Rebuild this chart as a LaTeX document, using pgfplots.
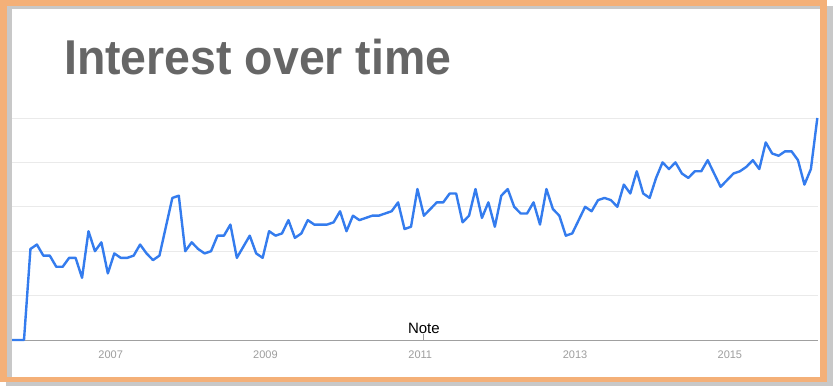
\documentclass[border=0pt]{standalone}
\usepackage{pgfplots}
\pgfplotsset{compat=1.18}
\usepackage{fontspec}
\setmainfont{Liberation Sans}
\definecolor{frameorange}{RGB}{244,176,120}
\definecolor{framegray}{RGB}{200,200,200}
\definecolor{titlegray}{RGB}{102,102,102}
\definecolor{ticktext}{RGB}{158,158,158}
\definecolor{gridc}{RGB}{234,234,234}
\definecolor{axisc}{RGB}{160,160,160}
\definecolor{trendblue}{RGB}{52,124,238}
\begin{document}
\begin{tikzpicture}[x=1pt,y=1pt]
\useasboundingbox (0,0) rectangle (833,386);
\fill[white] (0,0) rectangle (833,386);
\begin{axis}[
  at={(12pt,46pt)}, anchor=south west,
  scale only axis, width=806.3pt, height=222pt,
  xmin=-1.86, xmax=123.15, ymin=0, ymax=100,
  axis x line*=bottom, axis y line*=left,
  x axis line style={draw=axisc, line width=1pt, -},
  y axis line style={draw=none},
  xtick={13.44,37.44,61.44,85.44,109.44},
  xticklabels={2007,2009,2011,2013,2015},
  ytick={20,40,60,80,100}, yticklabels={},
  ymajorgrids, major grid style={draw=gridc, line width=1pt},
  major tick length=0pt,
  xticklabel style={anchor=base, yshift=-18.3pt, text=ticktext, font=\fontsize{11}{12}\selectfont},
  clip=false,
]
\addplot[trendblue, line width=2.4pt, line join=round] coordinates {
(-1.86,0)(0,0)(1,41)(2,43)(3,38)(4,38)(5,33)(6,33)(7,37)(8,37)(9,28)
(10,49)(11,40)(12,44)(13,30)(14,39)(15,37)(16,37)(17,38)(18,43)(19,39)
(20,36)(21,38)(22,51)(23,64)(24,65)(25,40)(26,44)(27,41)(28,39)(29,40)
(30,47)(31,47)(32,52)(33,37)(34,42)(35,47)(36,39)(37,37)(38,49)(39,47)
(40,48)(41,54)(42,46)(43,48)(44,54)(45,52)(46,52)(47,52)(48,53)(49,58)
(50,49)(51,56)(52,54)(53,55)(54,56)(55,56)(56,57)(57,58)(58,62)(59,50)
(60,51)(61,68)(62,56)(63,59)(64,62)(65,62)(66,66)(67,66)(68,53)(69,56)
(70,68)(71,55)(72,62)(73,51)(74,65)(75,68)(76,60)(77,57)(78,57)(79,62)
(80,52)(81,68)(82,59)(83,56)(84,47)(85,48)(86,54)(87,60)(88,58)(89,63)
(90,64)(91,63)(92,60)(93,70)(94,66)(95,76)(96,66)(97,64)(98,73)(99,80)
(100,77)(101,80)(102,75)(103,73)(104,76)(105,76)(106,81)(107,75)(108,69)(109,72)
(110,75)(111,76)(112,78)(113,81)(114,77)(115,89)(116,84)(117,83)(118,85)(119,85)
(120,81)(121,70)(122,77)(123,100)
};
\draw[axisc, line width=0.8pt] (axis cs:62.0,0) -- ([yshift=6pt]axis cs:62.0,0);
\node[anchor=base, inner sep=0pt, font=\fontsize{15}{17}\selectfont] at ([yshift=6.7pt]axis cs:62.0,0) {Note};
\end{axis}
% title
\node[anchor=base west, inner sep=0pt, text=titlegray] at (64,311)
  {\scalebox{0.95}[1]{\fontsize{48.9}{50}\selectfont\bfseries Interest over time}};
% frame: gray shadow
\fill[framegray] (7,4) rectangle (12,379);
\fill[framegray] (7,377) rectangle (820,380);
\fill[framegray] (827,0) rectangle (833,380);
\fill[framegray] (6,0) rectangle (833,4);
% frame: orange
\fill[frameorange] (0,4) rectangle (7,386);
\fill[frameorange] (0,380) rectangle (827,386);
\fill[frameorange] (820,4) rectangle (827,386);
\fill[frameorange] (0,4) rectangle (827,9);
\end{tikzpicture}
\end{document}
